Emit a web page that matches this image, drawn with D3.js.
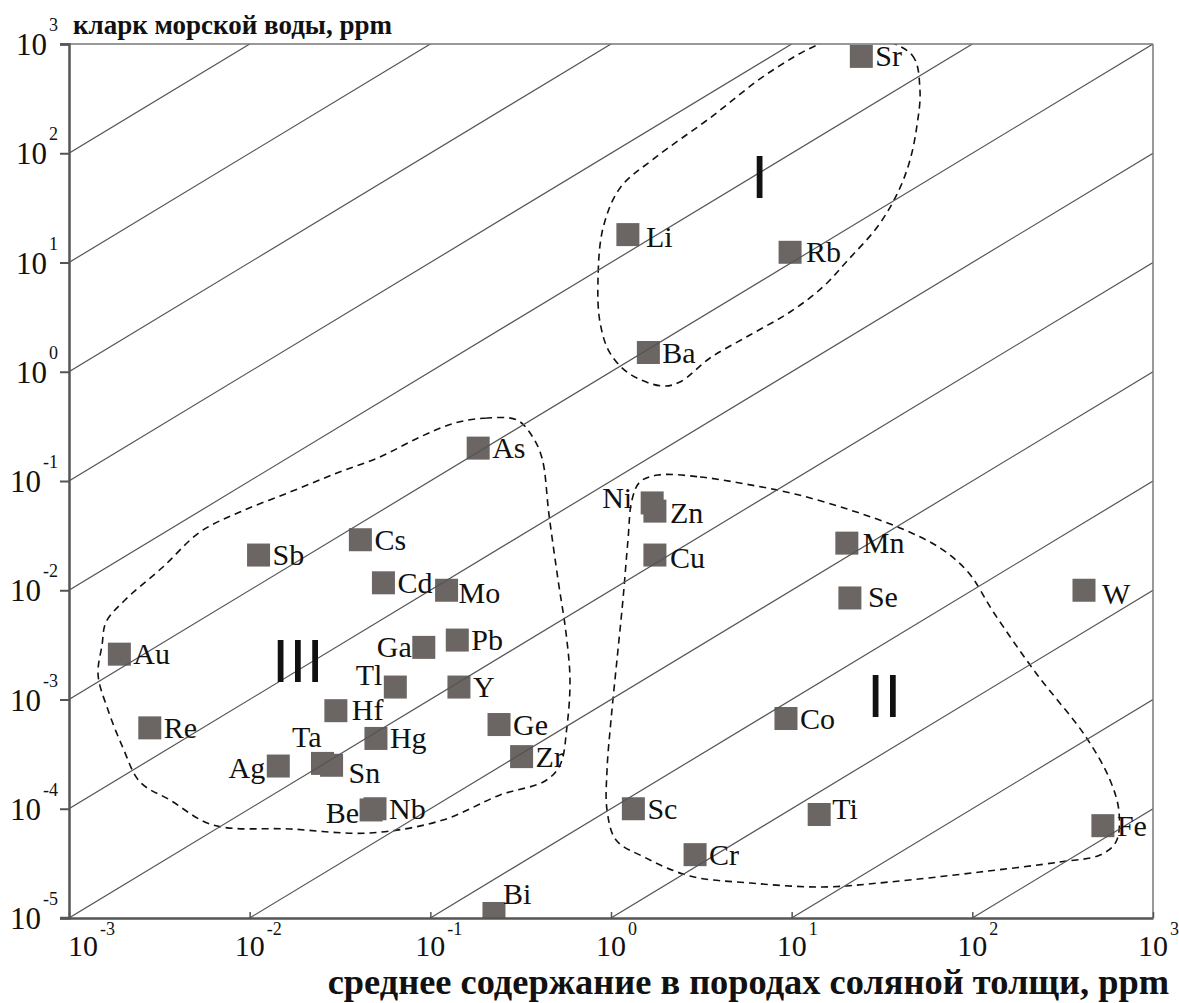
<!DOCTYPE html>
<html>
<head>
<meta charset="utf-8">
<script src="https://cdn.jsdelivr.net/npm/d3@7"></script>
<style>
  html, body { margin: 0; padding: 0; background: #ffffff; }
  svg { display: block; }
</style>
</head>
<body>
<svg id="chart" width="1179" height="1003"></svg>
<script>
// Elements: mean content in salt-sequence rocks (x) vs. sea-water clarke (y), ppm
const elements = ["Sr","Li","Rb","Ba","As","Ni","Zn","Cu","Cs","Sb","Cd","Mo","Au","Ga","Pb",
                  "Tl","Y","Hf","Re","Ge","Hg","Zr","Ag","Ta","Sn","Be","Nb","Bi",
                  "Mn","Se","W","Co","Sc","Ti","Cr","Fe"];
const rockContent = [24.3, 1.24, 9.8, 1.61, 0.184, 1.69, 1.75, 1.75, 0.041, 0.0112, 0.055, 0.123, 0.0019, 0.092, 0.141,
                     0.064, 0.144, 0.030, 0.0028, 0.24, 0.050, 0.32, 0.0144, 0.0253, 0.0284, 0.047, 0.0494, 0.225,
                     20.2, 21.0, 415, 9.3, 1.33, 14.2, 2.92, 528];
const seaWater = [770, 18, 12.4, 1.5, 0.20, 0.063, 0.053, 0.021, 0.029, 0.021, 0.0117, 0.0100, 0.0026, 0.0030, 0.0035,
                  0.0013, 0.0013, 0.00079, 0.00055, 0.00059, 0.00044, 0.00030, 0.000246, 0.00026, 0.00025, 0.0000975, 0.0001, 0.000011,
                  0.027, 0.0085, 0.010, 0.00067, 0.0001, 0.0000886, 0.000038, 0.00007];

// Axis decades
const xTickValues = [1e-3, 1e-2, 1e-1, 1e0, 1e1, 1e2, 1e3];
const xTickExponents = ["-3", "-2", "-1", "0", "1", "2", "3"];
const yTickValues = [1e-5, 1e-4, 1e-3, 1e-2, 1e-1, 1e0, 1e1, 1e2, 1e3];
const yTickExponents = ["-5", "-4", "-3", "-2", "-1", "0", "1", "2", "3"];

// Reference lines of constant ratio (sea water / rock)
const ratios = [1e-8, 1e-7, 1e-6, 1e-5, 1e-4, 1e-3, 1e-2, 1e-1, 1e0, 1e1, 1e2, 1e3, 1e4, 1e5];

// Group outlines, vertices given as decimal exponents [log10 x, log10 y]
const groupI = [[1.406,3.073],[1.666,2.899],[1.710,2.579],[1.694,2.259],[1.655,1.938],[1.589,1.645],
                [1.478,1.334],[1.312,1.023],[1.173,0.776],[0.991,0.547],[0.769,0.336],[0.548,0.126],
                [0.382,-0.094],[0.282,-0.130],[0.105,-0.021],[-0.006,0.172],[-0.061,0.455],[-0.072,0.840],
                [-0.044,1.316],[0.050,1.682],[0.243,1.957],[0.548,2.323],[0.880,2.744],[1.184,3.018]];
const groupII = [[0.260,-0.945],[0.493,-0.963],[0.742,-1.027],[1.018,-1.119],[1.323,-1.265],[1.600,-1.430],
                 [1.821,-1.613],[1.976,-1.833],[2.120,-2.208],[2.352,-2.757],[2.629,-3.343],[2.762,-3.737],
                 [2.812,-4.030],[2.795,-4.304],[2.707,-4.423],[2.485,-4.487],[2.042,-4.579],[1.544,-4.670],
                 [1.168,-4.716],[0.775,-4.680],[0.437,-4.616],[0.183,-4.442],[0.028,-4.286],[-0.022,-4.011],
                 [-0.022,-3.645],[0.000,-3.188],[0.033,-2.638],[0.066,-2.089],[0.094,-1.540],[0.116,-1.174],
                 [0.160,-1.009]];
const groupIII = [[-0.520,-0.442],[-0.686,-0.423],[-0.864,-0.469],[-1.057,-0.597],[-1.279,-0.780],[-1.517,-0.927],
                  [-1.777,-1.101],[-2.054,-1.284],[-2.275,-1.467],[-2.480,-1.787],[-2.690,-2.089],[-2.795,-2.291],
                  [-2.817,-2.501],[-2.839,-2.776],[-2.784,-3.096],[-2.701,-3.444],[-2.607,-3.755],[-2.441,-3.920],
                  [-2.203,-4.149],[-1.777,-4.185],[-1.334,-4.222],[-0.930,-4.103],[-0.614,-3.874],[-0.365,-3.746],
                  [-0.282,-3.600],[-0.244,-3.252],[-0.227,-2.822],[-0.249,-2.391],[-0.293,-1.906],[-0.343,-1.311],
                  [-0.382,-0.789],[-0.437,-0.588]];
const groupNames = ["I", "II", "III"];
// where each group numeral sits (rock, sea water)
const groupAt = [[5.96, 38.9], [26.1, 0.000692], [0.0133, 0.001445]];

// ---- layout ----
const W = 1179, H = 1003;
const plot = { left: 69, right: 1153, top: 44, bottom: 918 };
const markSize = 23;
const serifFont = "'Liberation Serif', 'Times New Roman', Times, serif";
const sansFont = "'Liberation Sans', Arial, Helvetica, sans-serif";

// label placement for marks whose name does not sit in the default spot
const labelPlace = {
  Ni: { anchor: "end", dx: -20, dy: 5 },
  Ga: { anchor: "end", dx: -12, dy: 10 },
  Tl: { anchor: "end", dx: -13, dy: -2 },
  Ta: { anchor: "end", dx: -1, dy: -16 },
  Ag: { anchor: "end", dx: -13, dy: 12 },
  Be: { anchor: "end", dx: -12, dy: 13 },
  Sn: { anchor: "start", dx: 17, dy: 18 },
  Bi: { anchor: "start", dx: 9, dy: -9 },
  Hf: { anchor: "start", dx: 16, dy: 9 },
  Mo: { anchor: "start", dx: 12, dy: 13 },
  Li: { anchor: "start", dx: 18, dy: 12 },
  Ti: { anchor: "start", dx: 13, dy: 5 },
  Zn: { anchor: "start", dx: 15, dy: 12 },
  Cu: { anchor: "start", dx: 15, dy: 13 },
  W:  { anchor: "start", dx: 18, dy: 14 },
  Se: { anchor: "start", dx: 18, dy: 9 },
  Mn: { anchor: "start", dx: 16, dy: 10 },
  Rb: { anchor: "start", dx: 16, dy: 10 }
};
const defaultPlace = { anchor: "start", dx: 14, dy: 10 };

const svg = d3.select("#chart");
svg.append("rect").attr("width", W).attr("height", H).attr("fill", "#ffffff");

const x = d3.scaleLog().domain([1e-3, 1e3]).range([plot.left, plot.right]);
const y = d3.scaleLog().domain([1e-5, 1e3]).range([plot.bottom, plot.top]);

svg.append("defs").append("clipPath").attr("id", "plot-clip")
  .append("rect")
  .attr("x", plot.left).attr("y", plot.top)
  .attr("width", plot.right - plot.left).attr("height", plot.bottom - plot.top);

const inner = svg.append("g").attr("clip-path", "url(#plot-clip)");

// group outlines (dashed)
const outline = d3.line()
  .x(d => x(Math.pow(10, d[0])))
  .y(d => y(Math.pow(10, d[1])))
  .curve(d3.curveCatmullRomClosed.alpha(0.5));

inner.selectAll("path.group")
  .data([groupI, groupII, groupIII])
  .join("path")
  .attr("class", "group")
  .attr("d", outline)
  .attr("fill", "none")
  .attr("stroke", "#111")
  .attr("stroke-width", 1.6)
  .attr("stroke-dasharray", "7,5");

// element squares
const points = elements.map((name, i) => ({ name, xv: rockContent[i], yv: seaWater[i] }));

inner.selectAll("rect.mark")
  .data(points)
  .join("rect")
  .attr("class", "mark")
  .attr("x", d => x(d.xv) - markSize / 2)
  .attr("y", d => y(d.yv) - markSize / 2)
  .attr("width", markSize)
  .attr("height", markSize)
  .attr("fill", "#6b6663");

// constant-ratio lines
inner.selectAll("line.ratio")
  .data(ratios)
  .join("line")
  .attr("class", "ratio")
  .attr("x1", x(1e-3)).attr("y1", r => y(r * 1e-3))
  .attr("x2", x(1e3)).attr("y2", r => y(r * 1e3))
  .attr("stroke", "#555")
  .attr("stroke-width", 1.2);

// element labels
svg.selectAll("text.elabel")
  .data(points)
  .join("text")
  .attr("class", "elabel")
  .each(function (d) {
    const p = labelPlace[d.name] || defaultPlace;
    d3.select(this)
      .attr("x", x(d.xv) + p.dx)
      .attr("y", y(d.yv) + p.dy)
      .attr("text-anchor", p.anchor);
  })
  .style("font-family", serifFont)
  .style("font-size", "30px")
  .attr("fill", "#111")
  .text(d => d.name);

// group numerals
svg.selectAll("text.gname")
  .data(groupNames)
  .join("text")
  .attr("class", "gname")
  .attr("x", (d, i) => x(groupAt[i][0]))
  .attr("y", (d, i) => y(groupAt[i][1]))
  .style("font-family", sansFont)
  .style("font-size", "62px")
  .attr("fill", "#111")
  .text(d => d);

// frame: top and right borders
svg.append("line")
  .attr("x1", plot.left - 9).attr("x2", plot.right)
  .attr("y1", plot.top).attr("y2", plot.top)
  .attr("stroke", "#777").attr("stroke-width", 1.5);
svg.append("line")
  .attr("x1", plot.right).attr("x2", plot.right)
  .attr("y1", plot.top).attr("y2", plot.bottom)
  .attr("stroke", "#777").attr("stroke-width", 1.5);

// y axis
const yAxis = svg.append("g").attr("transform", `translate(${plot.left},0)`)
  .call(d3.axisLeft(y).tickValues(yTickValues).tickSize(9).tickFormat(""));
yAxis.select(".domain").attr("stroke", "#555").attr("stroke-width", 2.5);
yAxis.selectAll(".tick line").attr("stroke", "#555").attr("stroke-width", 2);

// x axis (ticks point inward)
const xAxis = svg.append("g").attr("transform", `translate(0,${plot.bottom})`)
  .call(d3.axisTop(x).tickValues(xTickValues).tickSize(6).tickSizeOuter(0).tickFormat(""));
xAxis.select(".domain").attr("stroke", "#555").attr("stroke-width", 2.5);
xAxis.selectAll(".tick line").attr("stroke", "#555").attr("stroke-width", 1.5);
svg.append("line")
  .attr("x1", plot.left - 9).attr("x2", plot.left)
  .attr("y1", plot.bottom).attr("y2", plot.bottom)
  .attr("stroke", "#555").attr("stroke-width", 2.5);

// y tick labels: 10 with superscript exponent
yTickValues.forEach((v, i) => {
  const t = svg.append("text")
    .attr("x", plot.left - 11)
    .attr("y", y(v) + 11)
    .attr("text-anchor", "end")
    .style("font-family", serifFont)
    .attr("fill", "#111");
  t.append("tspan").style("font-size", "31px").text("10");
  t.append("tspan").style("font-size", "18px").attr("dx", 2).attr("dy", -24).text(yTickExponents[i]);
});

// x tick labels
xTickValues.forEach((v, i) => {
  const t = svg.append("text")
    .attr("x", i === 0 ? x(v) - 1 : x(v) - 15)
    .attr("y", plot.bottom + 38)
    .style("font-family", serifFont)
    .attr("fill", "#111");
  t.append("tspan").style("font-size", "30px").text("10");
  t.append("tspan").style("font-size", "18px").attr("dx", 2).attr("dy", -21).text(xTickExponents[i]);
});

// axis titles
svg.append("text")
  .attr("x", 73).attr("y", 34)
  .style("font-family", serifFont)
  .style("font-weight", "bold")
  .style("font-size", "27px")
  .attr("fill", "#111")
  .text("кларк морской воды, ppm");

svg.append("text")
  .attr("x", 1169).attr("y", 994)
  .attr("text-anchor", "end")
  .style("font-family", serifFont)
  .style("font-weight", "bold")
  .style("font-size", "36.4px")
  .attr("fill", "#111")
  .text("среднее содержание в породах соляной толщи, ppm");
</script>
</body>
</html>
